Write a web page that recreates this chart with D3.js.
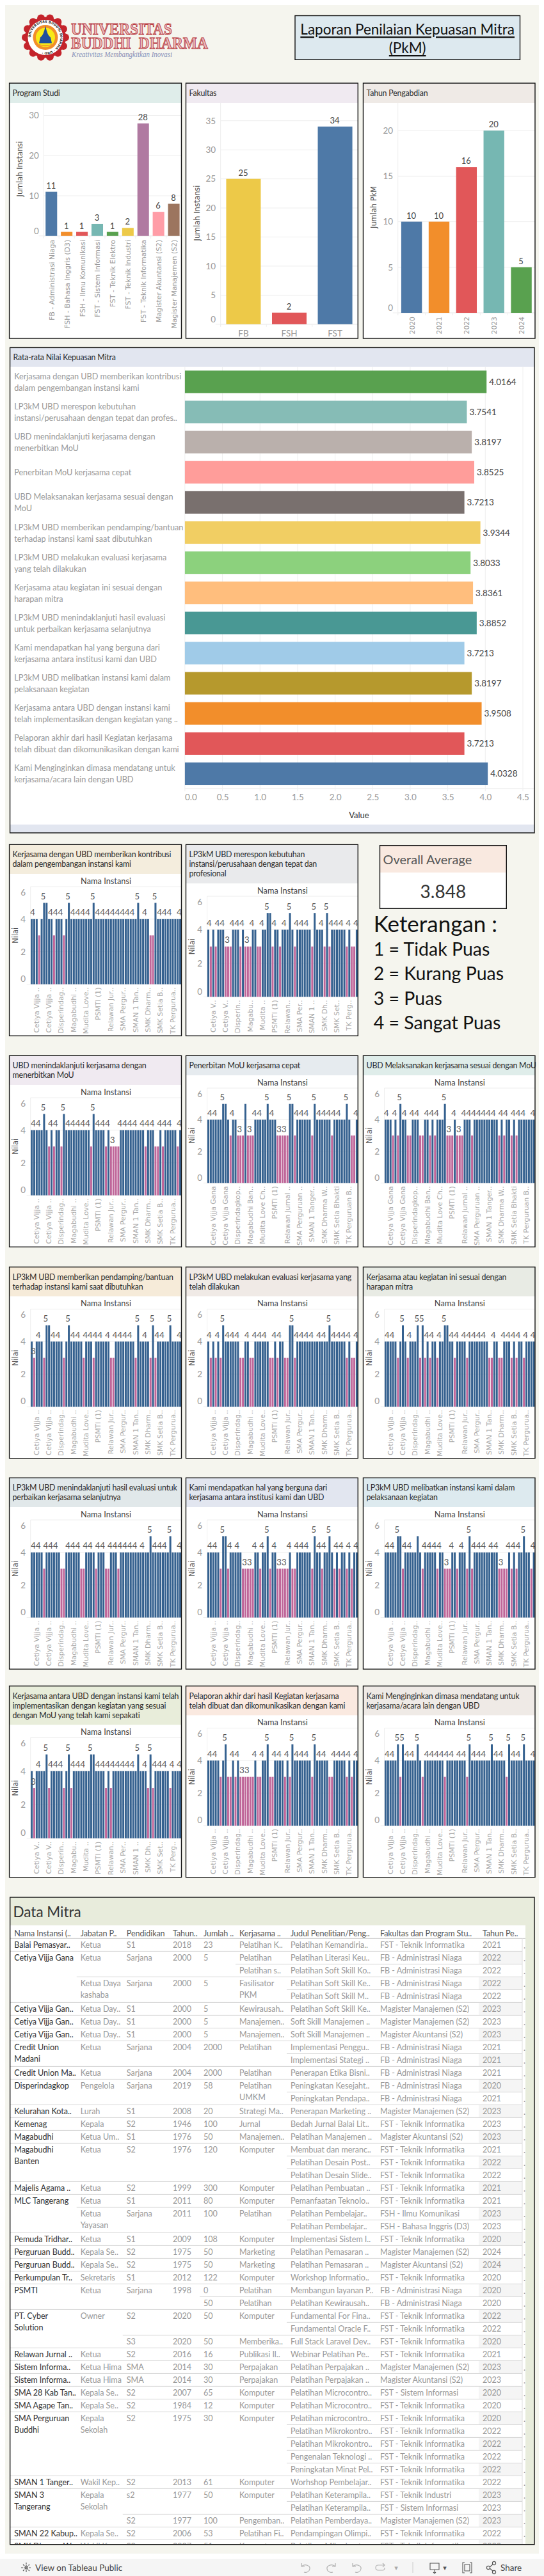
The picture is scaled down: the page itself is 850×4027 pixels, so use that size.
<!DOCTYPE html>
<html><head><meta charset="utf-8">
<script src="https://cdn.jsdelivr.net/npm/d3@7"></script>
<style>html,body{margin:0;padding:0;background:#fff}svg{display:block}</style>
</head><body><div id="c"></div>
<script>
const FONT = "Lato, 'Open Sans', sans-serif";
const AXISFONT = "'DejaVu Sans', sans-serif";

// ---- top charts
const programNames = ["FB - Administrasi Niaga","FSH - Bahasa Inggris (D3)","FSH - Ilmu Komunikasi","FST - Sistem Informasi","FST - Teknik Elektro","FST - Teknik Industri","FST - Teknik Informatika","Magister Akuntansi (S2)","Magister Manajemen (S2)"];
const programCounts = [11,1,1,3,1,2,28,6,8];
const programColors = ["#4e79a7","#f28e2b","#e15759","#76b7b2","#59a14f","#edc948","#b07aa1","#ff9da7","#9c755f"];
const facultyNames = ["FB","FSH","FST"];
const facultyCounts = [25,2,34];
const facultyColors = ["#edc948","#e15759","#4e79a7"];
const yearNames = ["2020","2021","2022","2023","2024"];
const yearCounts = [10,10,16,20,5];
const yearColors = ["#4e79a7","#f28e2b","#e15759","#76b7b2","#59a14f"];

// ---- average panel
const questionAxisLines = [
 ["Kerjasama dengan UBD memberikan kontribusi","dalam pengembangan instansi kami"],
 ["LP3kM UBD merespon kebutuhan","instansi/perusahaan dengan tepat dan profes.."],
 ["UBD menindaklanjuti kerjasama dengan","menerbitkan MoU"],
 ["Penerbitan MoU kerjasama cepat"],
 ["UBD Melaksanakan kerjasama sesuai dengan","MoU"],
 ["LP3kM UBD memberikan pendamping/bantuan","terhadap instansi kami saat dibutuhkan"],
 ["LP3kM UBD melakukan evaluasi kerjasama","yang telah dilakukan"],
 ["Kerjasama atau kegiatan ini sesuai dengan","harapan mitra"],
 ["LP3kM UBD menindaklanjuti hasil evaluasi","untuk perbaikan kerjasama selanjutnya"],
 ["Kami mendapatkan hal yang berguna dari","kerjasama antara institusi kami dan UBD"],
 ["LP3kM UBD melibatkan instansi kami dalam","pelaksanaan kegiatan"],
 ["Kerjasama antara UBD dengan instansi kami","telah implementasikan dengan kegiatan yang .."],
 ["Pelaporan akhir dari hasil Kegiatan kerjasama","telah dibuat dan dikomunikasikan dengan kami"],
 ["Kami Menginginkan dimasa mendatang untuk","kerjasama/acara lain dengan UBD"]];
const questionAverages = [4.0164,3.7541,3.8197,3.8525,3.7213,3.9344,3.8033,3.8361,3.8852,3.7213,3.8197,3.9508,3.7213,4.0328];
const questionColors = ["#59a14f","#86bcb6","#bab0ac","#ff9d9a","#79706e","#f1ce63","#8cd17d","#ffbe7d","#499894","#a0cbe8","#b6992d","#f28e2b","#e15759","#4e79a7"];
const avgTicks = [0,0.5,1,1.5,2,2.5,3,3.5,4,4.5];
const overallAverage = "3.848";
const legendLines = ["1 = Tidak Puas","2 = Kurang Puas","3 = Puas","4 = Sangat Puas"];

// ---- per-question scores of the 61 respondents
const instanceTicks = ["Cetiya Vijja Gana","Cetiya Vijja Gana","Disperindagkop Kota","Magabudhi Banten","Mudita Love Charity","PSMTI (1)","Relawan Jurnal Indonesia","SMA Perguruan Buddhi","SMAN 1 Tangerang","SMK Dharma Widya","SMK Setia Bhakti","TK Perguruan Buddhi"];
const q1 = [4,4,4,3,4,5,5,4,4,3, 4,4,4,3,4,5,4,4,4,4, 4,4,4,4,4,5,4,4,4,4, 4,4,4,4,4,4,4,4,4,4, 4,4,4,5,4,4,4,4,3,3, 5,4,4,4,4,4,4,4,4,4,4];
const q2 = [4,3,4,3,4,4,4,3,3,3, 4,4,4,3,4,3,3,3,4,4, 3,3,4,4,5,5,3,4,4,3, 4,4,4,5,4,3,4,4,4,4, 4,4,3,5,4,4,4,3,5,3, 4,4,4,4,4,4,3,4,3,3,4];
const q3 = [4,4,4,4,4,5,4,3,4,3, 4,4,3,5,4,4,4,4,4,4, 4,4,4,4,3,5,4,4,4,4, 3,4,3,3,3,3,4,4,4,4, 4,4,4,4,4,4,3,4,4,4, 3,3,4,3,4,4,4,4,4,3,4];
const q4 = [4,4,4,4,4,4,5,5,4,3, 4,4,3,3,3,5,3,3,3,4, 4,4,4,4,5,4,4,4,3,3, 3,3,3,5,5,3,4,4,4,4, 4,4,3,5,4,4,4,4,4,4, 3,4,4,4,4,4,5,4,3,3,4];
const q5 = [4,4,4,3,4,3,5,4,4,3, 3,4,4,4,3,3,4,4,3,4, 3,4,4,4,5,3,3,3,4,3, 3,3,4,4,4,3,4,4,4,4, 4,4,4,4,4,4,3,4,3,4, 4,3,4,3,4,4,4,4,4,4,4];
const q6 = [4,3,4,4,4,3,5,5,4,4, 4,4,4,3,4,5,4,4,4,4, 4,3,4,4,4,3,4,4,4,4, 4,4,3,3,4,4,4,4,4,4, 4,4,3,5,4,4,4,4,3,5, 3,4,4,4,4,4,5,4,4,4,4];
const q7 = [4,3,4,3,4,3,5,4,4,4, 4,4,4,3,3,4,4,3,3,4, 4,4,4,4,4,3,3,4,3,4, 4,3,3,5,5,3,4,4,4,4, 4,4,4,4,4,4,4,4,4,5, 4,4,4,4,4,4,3,4,3,3,4];
const q8 = [4,4,4,4,4,3,4,5,4,3, 4,4,4,5,3,5,3,4,3,4, 4,3,4,4,5,5,4,4,3,4, 4,4,4,3,4,4,4,4,4,4, 4,4,3,3,4,4,3,3,4,4, 4,3,4,3,4,4,3,4,4,4,4];
const q9 = [4,4,4,4,4,3,4,4,4,4, 4,4,3,3,4,4,4,4,4,4, 3,3,4,4,4,4,3,4,4,4, 3,3,4,4,4,3,4,4,4,4, 4,4,4,4,4,4,4,4,5,4, 4,4,4,4,4,4,5,4,4,4,4];
const q10 = [4,4,4,4,4,3,5,5,3,4, 4,4,4,4,3,3,3,3,3,4, 4,3,4,4,5,3,4,4,3,3, 3,3,3,4,3,3,4,4,4,4, 4,4,3,5,4,4,3,4,4,5, 4,3,4,3,4,4,3,4,3,4,4];
const q11 = [4,4,4,4,4,5,5,3,4,4, 4,4,4,5,4,3,4,4,4,4, 4,3,4,4,3,3,3,4,4,3, 4,4,4,3,5,3,4,4,4,4, 4,4,4,4,4,4,3,3,3,3, 4,3,4,3,4,4,5,4,4,3,4];
const q12 = [4,3,4,4,4,4,5,3,4,4, 4,4,4,3,4,5,3,4,4,4, 4,4,4,4,5,5,4,4,4,4, 3,4,3,4,4,4,4,4,4,4, 4,4,4,5,4,4,4,3,5,3, 4,4,4,4,4,4,3,4,4,4,4];
const q13 = [4,4,4,4,4,3,4,5,3,3, 4,3,4,3,3,3,3,3,3,4, 3,3,4,4,5,3,3,4,4,4, 4,3,4,3,5,4,4,4,4,4, 4,4,3,5,4,4,4,4,4,3, 3,4,4,4,4,4,3,4,3,4,4];
const q14 = [4,4,4,4,4,5,3,5,4,4, 4,4,4,5,4,3,4,4,4,4, 4,4,4,4,3,4,4,4,4,4, 4,4,4,3,5,4,4,4,4,4, 4,4,4,5,4,4,4,4,4,3, 5,4,4,4,4,4,5,4,4,4,4];

// which bars keep a value label (the rest were dropped by the original's overlap rule)
const lab1 = [0,5,8,10,12,15,17,19,21,23,25,27,29,31,33,35,37,39,41,43,46,50,52,54,56,60];
const lab2 = [0,4,6,8,10,12,14,16,18,22,24,27,31,33,36,38,40,43,46,48,50,52,54,57,60];
const lab3 = [1,3,5,8,10,13,15,17,19,21,23,25,27,29,31,33,36,38,40,42,45,47,49,52,54,56,60];
const lab4 = [1,3,6,10,13,17,19,21,24,26,29,31,33,36,38,40,43,45,47,49,51,53,56,60];
const lab5 = [0,4,6,8,11,13,17,19,21,24,26,28,30,32,34,36,38,40,42,44,47,49,52,54,56,60];
const lab6 = [1,3,6,9,11,15,17,19,22,24,26,28,31,34,36,38,40,43,46,49,51,53,56,60];
const lab7 = [0,4,6,8,10,12,16,19,21,23,27,29,34,36,38,40,42,45,47,49,51,53,55,57,60];
const lab8 = [1,3,7,10,13,15,17,19,22,24,27,29,32,34,36,38,40,44,48,50,52,54,57,60];
const lab9 = [1,3,6,8,10,15,17,19,22,24,27,29,32,34,36,38,40,42,45,48,50,52,54,56,60];
const lab10 = [1,3,6,9,12,15,17,19,22,24,27,29,31,33,36,38,40,43,45,47,49,52,54,57,60];
const lab11 = [1,3,5,8,10,16,18,20,22,25,27,31,34,36,38,40,43,45,47,50,52,54,56,60];
const lab12 = [1,3,6,8,10,12,15,17,19,21,24,27,29,31,33,35,37,39,41,43,46,48,50,52,54,57,60];
const lab13 = [1,3,7,10,12,14,16,19,22,24,27,29,32,34,36,38,40,43,45,47,51,53,55,57,60];
const lab14 = [1,3,5,7,9,11,13,17,19,21,23,25,27,30,32,34,36,38,40,43,45,47,50,52,54,56,60];

const questionTitles = [
 ["Kerjasama dengan UBD memberikan kontribusi","dalam pengembangan instansi kami"],
 ["LP3kM UBD merespon kebutuhan","instansi/perusahaan dengan tepat dan","profesional"],
 ["UBD menindaklanjuti kerjasama dengan","menerbitkan MoU"],
 ["Penerbitan MoU kerjasama cepat"],
 ["UBD Melaksanakan kerjasama sesuai dengan MoU"],
 ["LP3kM UBD memberikan pendamping/bantuan","terhadap instansi kami saat dibutuhkan"],
 ["LP3kM UBD melakukan evaluasi kerjasama yang","telah dilakukan"],
 ["Kerjasama atau kegiatan ini sesuai dengan","harapan mitra"],
 ["LP3kM UBD menindaklanjuti hasil evaluasi untuk","perbaikan kerjasama selanjutnya"],
 ["Kami mendapatkan hal yang berguna dari","kerjasama antara institusi kami dan UBD"],
 ["LP3kM UBD melibatkan instansi kami dalam","pelaksanaan kegiatan"],
 ["Kerjasama antara UBD dengan instansi kami telah","implementasikan dengan kegiatan yang sesuai","dengan MoU yang telah kami sepakati"],
 ["Pelaporan akhir dari hasil Kegiatan kerjasama","telah dibuat dan dikomunikasikan dengan kami"],
 ["Kami Menginginkan dimasa mendatang untuk","kerjasama/acara lain dengan UBD"]];
const questionHeaderColors = ["#f4eddd","#e9eaec","#f0eaf1","#e6ebef","#dfedea","#f6ebd9","#f0eae6","#e8ebe4","#e1e8ea","#e2e6f0","#ddeaef","#e8edda","#fae9e0","#efeae6"];
const questionScores = [q1,q2,q3,q4,q5,q6,q7,q8,q9,q10,q11,q12,q13,q14];
const questionLabels = [lab1,lab2,lab3,lab4,lab5,lab6,lab7,lab8,lab9,lab10,lab11,lab12,lab13,lab14];
const scoreColor = d => d === 3 ? "#bf6699" : "#35618f";

// ---- table
const FB="FB - Administrasi Niaga", TI="FST - Teknik Informatika", MM="Magister Manajemen (S2)", MA="Magister Akuntansi (S2)";
const tableColumns = ["Nama Instansi (..","Jabatan P..","Pendidikan","Tahun..","Jumlah ..","Kerjasama ..","Judul Penelitian/Peng..","Fakultas dan Program Stu..","Tahun Pe.."];
const tableRows = [
["Balai Pemasyar..","Ketua","S1","2018","23","Pelatihan K..","Pelatihan Kemandiria..",TI,"2021"],
["Cetiya Vijja Gana","Ketua","Sarjana","2000","5","Pelatihan","Pelatihan Literasi Keu..",FB,"2022"],
["","","","","","Pelatihan s..","Pelatihan Soft Skill Ko..",FB,"2022"],
["","Ketua Daya\nkashaba","Sarjana","2000","5","Fasilisator\nPKM","Pelatihan Soft Skill Ke..",FB,"2022"],
["","","","","","","Pelatihan Soft Skill M..",FB,"2022"],
["Cetiya Vijja Gan..","Ketua Day..","S1","2000","5","Kewirausah..","Pelatihan Soft Skill Ke..",MM,"2023"],
["Cetiya Vijja Gan..","Ketua Day..","S1","2000","5","Manajemen..","Soft Skill Manajemen ..",MM,"2023"],
["Cetiya Vijja Gan..","Ketua Day..","S1","2000","5","Manajemen..","Soft Skill Manajemen ..",MA,"2023"],
["Credit Union\nMadani","Ketua","Sarjana","2004","2000","Pelatihan","Implementasi Penggu..",FB,"2021"],
["","","","","","","Implementasi Stategi ..",FB,"2021"],
["Credit Union Ma..","Ketua","Sarjana","2004","2000","Pelatihan","Penerapan Etika Bisni..",FB,"2021"],
["Disperindagkop","Pengelola","Sarjana","2019","58","Pelatihan\nUMKM","Peningkatan Kesejaht..",FB,"2020"],
["","","","","","","Peningkatan Pendapa..",FB,"2021"],
["Kelurahan Kota..","Lurah","S1","2008","20","Strategi Ma..","Penerapan Marketing ..",MM,"2023"],
["Kemenag","Kepala","S2","1946","100","Jurnal","Bedah Jurnal Balai Lit..",TI,"2023"],
["Magabudhi","Ketua Um..","S1","1976","50","Manajemen..","Pelatihan Manajemen ..",MA,"2023"],
["Magabudhi\nBanten","Ketua","S2","1976","120","Komputer","Membuat dan meranc..",TI,"2021"],
["","","","","","","Pelatihan Desain Post..",TI,"2022"],
["","","","","","","Pelatihan Desain Slide..",TI,"2022"],
["Majelis Agama ..","Ketua","S2","1999","300","Komputer","Pelatihan Pembuatan ..",TI,"2021"],
["MLC Tangerang","Ketua","S1","2011","80","Komputer","Pemanfaatan Teknolo..",TI,"2021"],
["","Ketua\nYayasan","Sarjana","2011","100","Pelatihan","Pelatihan Pembelajar..","FSH - Ilmu Komunikasi","2023"],
["","","","","","","Pelatihan Pembelajar..","FSH - Bahasa Inggris (D3)","2023"],
["Pemuda Tridhar..","Ketua","S1","2009","108","Komputer","Implementasi Sistem I..",TI,"2020"],
["Perguruan Budd..","Kepala Se..","S2","1975","50","Marketing","Pelatihan Pemasaran ..",MM,"2024"],
["Perguruan Budd..","Kepala Se..","S2","1975","50","Marketing","Pelatihan Pemasaran ..",MA,"2024"],
["Perkumpulan Tr..","Sekretaris","S1","2012","122","Komputer","Workshop Informatio..",TI,"2020"],
["PSMTI","Ketua","Sarjana","1998","0","Pelatihan","Membangun layanan P..",FB,"2020"],
["","","","","50","Pelatihan","Pelatihan Kewirausah..",FB,"2020"],
["PT. Cyber\nSolution","Owner","S2","2020","50","Komputer","Fundamental For Fina..",TI,"2022"],
["","","","","","","Fundamental Oracle F..",TI,"2022"],
["","","S3","2020","50","Memberika..","Full Stack Laravel Dev..",TI,"2020"],
["Relawan Jurnal ..","Ketua","S2","2016","16","Publikasi Il..","Webinar Pelatihan Pe..",TI,"2021"],
["Sistem Informa..","Ketua Hima","SMA","2014","30","Perpajakan","Pelatihan Perpajakan ..",MM,"2023"],
["Sistem Informa..","Ketua Hima","SMA","2014","30","Perpajakan","Pelatihan Perpajakan ..",MA,"2023"],
["SMA 28 Kab Tan..","Kepala Se..","S2","2007","65","Komputer","Pelatihan Microcontro..","FST - Sistem Informasi","2020"],
["SMA Agape Tan..","Kepala Se..","S2","1984","12","Komputer","Pelatihan Microcontro..",TI,"2020"],
["SMA Perguruan\nBuddhi","Kepala\nSekolah","S2","1975","30","Komputer","Pelatihan microcontro..",TI,"2020"],
["","","","","","","Pelatihan Mikrokontro..",TI,"2022"],
["","","","","","","Pelatihan Mikrokontro..",TI,"2022"],
["","","","","","","Pengenalan Teknologi ..",TI,"2022"],
["","","","","","","Peningkatan Minat Pel..",TI,"2022"],
["SMAN 1 Tanger..","Wakil Kep..","S2","2013","61","Komputer","Worhshop Pembelajar..",TI,"2022"],
["SMAN 3\nTangerang","Kepala\nSekolah","s2","1977","50","Komputer","Pelatihan Keterampila..","FST - Teknik Industri","2023"],
["","","","","","","Pelatihan Keterampila..","FST - Sistem Informasi","2023"],
["","","S2","1977","100","Pengemban..","Pelatihan Pemberdaya..",MM,"2023"],
["SMAN 22 Kabup..","Kepala Se..","S2","2006","53","Pelatihan Fi..","Pendampingan Olimpi..",TI,"2022"],
["SMK Dharma W..","Wakil Kep..","S2","2007","51","Komputer","Pelatihan Mikrokontro..",TI,"2022"]];

// ---------------------------------------------------------------- drawing
const W=850,H=4027;
const svg=d3.select("#c").append("svg").attr("width",W).attr("height",H).attr("viewBox",`0 0 ${W} ${H}`);
const defs=svg.append("defs");
svg.append("rect").attr("width",W).attr("height",H).attr("fill","#fff");
svg.append("rect").attr("x",8).attr("y",8).attr("width",834).attr("height",3984).attr("fill","#f5f5ee");

function T(g,x,y,s,o={}){
  return g.append("text").attr("x",x).attr("y",y).attr("dominant-baseline","central")
    .attr("font-family",o.f||FONT).attr("font-size",o.s||13).attr("fill",o.c||"#333")
    .attr("letter-spacing",o.ls||null)
    .attr("text-anchor",o.a||"start").attr("font-weight",o.w||null).text(s);
}
function panel(x0,y0,x1,y1,hh,col,lines,fs){
  svg.append("rect").attr("x",x0).attr("y",y0).attr("width",x1-x0).attr("height",y1-y0).attr("fill","#fff");
  svg.append("rect").attr("x",x0).attr("y",y0).attr("width",x1-x0).attr("height",hh).attr("fill",col);
  const g=svg.append("g");
  lines.forEach((l,i)=>T(g,x0+5,y0+hh/2+(i-(lines.length-1)/2)*15,l,{s:fs||12.4,c:"#2b2b2b",ls:-0.2}));
}
function frame(x0,y0,x1,y1){
  svg.append("rect").attr("x",x0).attr("y",y0).attr("width",x1-x0).attr("height",y1-y0).attr("fill","none").attr("stroke","#111").attr("stroke-width",1.4);
}
function cutLabel(sel,max){
  sel.each(function(){
    const t=d3.select(this); let s=t.text();
    if(this.getComputedTextLength()<=max) return;
    let n=s.length;
    while(n>1){ n--; t.text(s.slice(0,n)+".."); if(this.getComputedTextLength()<=max) break; }
  });
}

// header: logo + title
(function(){
  const g=svg.append("g").attr("transform","translate(71,58.6)");
  d3.range(14).forEach(i=>{const a=i/14*2*Math.PI;
    g.append("circle").attr("cx",31*Math.cos(a)).attr("cy",31*Math.sin(a)).attr("r",6).attr("fill","#c4242b");});
  g.append("circle").attr("r",32).attr("fill","#c4242b");
  g.append("circle").attr("r",27.5).attr("fill","#fff");
  defs.append("path").attr("id","ringTxt").attr("d","M -23 0 A 23 23 0 1 1 23 0 A 23 23 0 1 1 -23 0");
  g.append("text").attr("font-size",5.2).attr("font-family",AXISFONT).attr("font-weight","bold").attr("fill","#333")
    .append("textPath").attr("href","#ringTxt").text("UNIVERSITAS BUDDHI DHARMA \u00b7 UBD \u00b7");
  g.append("circle").attr("r",19.5).attr("fill","#f28e2b");
  g.append("circle").attr("r",15).attr("fill","#f7ea18");
  g.append("path").attr("d","M -10 9 L -8 0 Q -3 -3 0 -18 Q 3 -3 8 0 L 10 9 Z").attr("fill","#1f4f9c");
  g.append("path").attr("d","M -10 11 Q 0 15 10 11").attr("stroke","#f28e2b").attr("stroke-width",1.5).attr("fill","none");
  const logoFont="'Liberation Serif', serif";
  const L=svg.append("g");
  [["UNIVERSITAS",111,45,158],["BUDDHI  DHARMA",111,67,214]].forEach(d=>{
    L.append("text").attr("x",d[1]).attr("y",d[2]).attr("dominant-baseline","central").attr("font-family",logoFont)
     .attr("font-size",26).attr("font-weight","bold").attr("fill","#e9b7b7").attr("stroke","#b5343b").attr("stroke-width",.9)
     .attr("textLength",d[3]).attr("lengthAdjust","spacingAndGlyphs").style("white-space","pre").text(d[0]);
  });
  L.append("text").attr("x",112).attr("y",85).attr("dominant-baseline","central").attr("font-family",logoFont).attr("font-style","italic")
   .attr("font-size",12).attr("fill","#8a93b8").attr("textLength",157).attr("lengthAdjust","spacingAndGlyphs").text("Kreativitas Membangkitkan Inovasi");
  svg.append("rect").attr("x",461).attr("y",24.5).attr("width",351.5).attr("height",68.8).attr("fill","#dde9ef").attr("stroke","#111").attr("stroke-width",1.4);
  ["Laporan Penilaian Kepuasan Mitra","(PkM)"].forEach((s,i)=>
    T(svg,636.7,45.5+i*29,s,{s:22.5,c:"#111",a:"middle"}).attr("text-decoration","underline"));
})();

// three top bar charts
function topChart(cfg){
  const {x0,x1,paneL,zeroY,topVal,names,vals,cols,title,titleX,titleY,header,hcol,ticks,rot}=cfg;
  const y0=130,y1=529,hh=31,paneT=y0+hh;
  panel(x0,y0,x1,y1,hh,hcol,[header]);
  const g=svg.append("g");
  const y=d3.scaleLinear().domain([0,topVal]).range([zeroY,paneT]);
  const x=d3.scaleBand().domain(names).range([paneL,x1]).paddingInner(.245).paddingOuter(.122);
  g.selectAll("line.g").data(ticks).join("line").attr("x1",paneL).attr("x2",x1).attr("y1",d=>y(d)).attr("y2",d=>y(d)).attr("stroke","#eee");
  g.append("line").attr("x1",paneL).attr("x2",paneL).attr("y1",paneT).attr("y2",zeroY+3).attr("stroke","#eee");
  g.append("line").attr("x1",paneL-8).attr("x2",x1).attr("y1",zeroY).attr("y2",zeroY).attr("stroke","#eee");
  const ax=g.append("g").attr("transform",`translate(${paneL-7.5},0)`).call(d3.axisLeft(y).tickValues(ticks).tickFormat(d3.format("d")).tickSize(0).tickPadding(0));
  ax.select(".domain").remove();
  ax.selectAll("text").attr("font-family",FONT).attr("font-size",13.5).attr("fill","#999").attr("dy",d=>d===0?"-0.25em":"0.32em");
  g.selectAll("rect.b").data(names).join("rect").attr("x",d=>x(d)).attr("width",x.bandwidth())
    .attr("y",(d,i)=>y(vals[i])).attr("height",(d,i)=>zeroY-y(vals[i])).attr("fill",(d,i)=>cols[i]);
  g.selectAll("text.v").data(names).join("text").attr("x",d=>x(d)+x.bandwidth()/2-.5).attr("y",(d,i)=>y(vals[i])-10)
    .attr("text-anchor","middle").attr("dominant-baseline","central").attr("font-family",FONT).attr("font-size",13).attr("fill","#444").text((d,i)=>vals[i]);
  const step=x.step();
  g.selectAll("line.t").data(d3.range(names.length+1)).join("line")
    .attr("x1",i=>paneL+step*i).attr("x2",i=>paneL+step*i).attr("y1",zeroY).attr("y2",zeroY+4).attr("stroke","#eee");
  if(rot){
    g.selectAll("text.n").data(names).join("text")
     .attr("transform",d=>`translate(${x(d)+x.bandwidth()/2+1},${zeroY+6}) rotate(-90)`)
     .attr("text-anchor","end").attr("dominant-baseline","central").attr("font-family",AXISFONT).attr("font-size",10.8).attr("fill","#999").text(d=>d);
  } else {
    g.selectAll("text.n").data(names).join("text").attr("x",d=>x(d)+x.bandwidth()/2).attr("y",zeroY+14)
     .attr("text-anchor","middle").attr("dominant-baseline","central").attr("font-family",FONT).attr("font-size",13.5).attr("fill","#999").text(d=>d);
  }
  g.append("text").attr("transform",`translate(${titleX},${titleY}) rotate(-90)`).attr("text-anchor","middle").attr("dominant-baseline","central")
   .attr("font-family",AXISFONT).attr("font-size",11.4).attr("fill","#555").text(title);
  frame(x0,y0,x1,y1);
}
topChart({x0:14.6,x1:283.5,paneL:68.3,zeroY:368.8,topVal:33.09,names:programNames,vals:programCounts,cols:programColors,title:"Jumlah Instansi",titleX:31.4,titleY:264,header:"Program Studi",hcol:"#dfedea",ticks:[0,10,20,30],rot:true});
topChart({x0:290.5,x1:559.3,paneL:344.7,zeroY:506.9,topVal:38.05,names:facultyNames,vals:facultyCounts,cols:facultyColors,title:"Jumlah Instansi",titleX:307.8,titleY:333,header:"Fakultas",hcol:"#f0eaf1",ticks:[0,5,10,15,20,25,30,35],rot:false});
topChart({x0:567.5,x1:836,paneL:621.7,zeroY:489,topVal:23.03,names:yearNames,vals:yearCounts,cols:yearColors,title:"Jumlah PkM",titleX:584,titleY:324,header:"Tahun Pengabdian",hcol:"#efeae6",ticks:[0,5,10,15,20],rot:true});

// average panel
(function(){
  const x0=15.6,x1=835,y0=543.4,y1=1302,hh=30.3;
  panel(x0,y0,x1,y1,hh,"#e2e6f0",["Rata-rata Nilai Kepuasan Mitra"]);
  svg.append("rect").attr("x",x0).attr("y",1289).attr("width",x1-x0).attr("height",y1-1289).attr("fill","#e2e6f0");
  const g=svg.append("g");
  const x=d3.scaleLinear().domain([0,4.5]).range([288.9,817]);
  const y=d3.scaleBand().domain(d3.range(questionAverages.length)).range([573.7,1232.7]).paddingInner(.255).paddingOuter(.12);
  g.selectAll("line.g").data(avgTicks).join("line").attr("x1",d=>x(d)).attr("x2",d=>x(d)).attr("y1",573.7).attr("y2",1237).attr("stroke","#efefef");
  g.append("line").attr("x1",288.9).attr("x2",x1).attr("y1",1232.7).attr("y2",1232.7).attr("stroke","#efefef");
  g.selectAll("rect.b").data(questionAverages).join("rect").attr("x",x(0)).attr("y",(d,i)=>y(i)).attr("height",y.bandwidth())
    .attr("width",d=>x(d)-x(0)).attr("fill",(d,i)=>questionColors[i]);
  g.selectAll("text.v").data(questionAverages).join("text").attr("x",d=>x(d)+4).attr("y",(d,i)=>y(i)+y.bandwidth()/2)
    .attr("dominant-baseline","central").attr("font-family",FONT).attr("font-size",13.5).attr("fill","#444").text(d=>d.toFixed(4));
  questionAxisLines.forEach((ls,i)=>ls.forEach((l,j)=>
    T(g,22.2,y(i)+y.bandwidth()/2+(j-(ls.length-1)/2)*18,l,{s:12.7,c:"#999",ls:-0.03})));
  const ax=g.append("g").attr("transform","translate(0,1241)").call(d3.axisBottom(x).tickValues(avgTicks).tickFormat(d3.format(".1f")).tickSize(0).tickPadding(0));
  ax.select(".domain").remove();
  ax.selectAll("text").attr("font-family",FONT).attr("font-size",13.5).attr("fill","#999").attr("dx",d=>d===0?9:0);
  T(g,561,1273.7,"Value",{s:13,c:"#333",a:"middle"});
  frame(x0,y0,x1,y1);
})();

// overall + legend
(function(){
  panel(593.5,1321.7,791.3,1420.3,42.3,"#f9e9e0",[]);
  T(svg,598.5,1343,"Overall Average",{s:20,c:"#555"});
  T(svg,692.4,1393,overallAverage,{s:28,c:"#333",a:"middle"});
  frame(593.5,1321.7,791.3,1420.3);
  T(svg,583.7,1443,"Keterangan :",{s:35,c:"#111"});
  legendLines.forEach((s,i)=>T(svg,583.7,1483+i*38.4,s,{s:28.5,c:"#111"}));
})();

// small multiples
const colX=[[14.6,283.5],[290.5,559.3],[567.5,836]];
const rowTop=[1320.3,1650.3,1980.7,2310.3,2635.7];
const slots=[[0,0],[0,1],[1,0],[1,1],[1,2],[2,0],[2,1],[2,2],[3,0],[3,1],[3,2],[4,0],[4,1],[4,2]];
const headH={1:30.7,2:45.7,3:60.7}, paneH={1:148.3,2:152.6,3:157.3}, tickH={1:100,2:80,3:60};
questionScores.forEach((vals,k)=>{
  const [r,c]=slots[k];
  const [x0,x1]=colX[c], top=rowTop[r], bottom=top+299, n=questionTitles[k].length;
  panel(x0,top,x1,bottom,headH[n],questionHeaderColors[k],questionTitles[k]);
  const paneL=x0+33.1, paneT=top+headH[n]+20, zeroY=paneT+paneH[n];
  const g=svg.append("g");
  const cid="cp"+k;
  defs.append("clipPath").attr("id",cid).append("rect").attr("x",x0).attr("y",top).attr("width",x1-x0).attr("height",299);
  g.attr("clip-path",`url(#${cid})`);
  T(g,(paneL+x1)/2,top+headH[n]+10.5,"Nama Instansi",{s:12.8,c:"#444",a:"middle"});
  const y=d3.scaleLinear().domain([0,6]).range([zeroY,paneT]);
  const x=d3.scaleBand().domain(d3.range(vals.length)).range([paneL,x1]).paddingInner(.22).paddingOuter(.1);
  g.selectAll("line.g").data([0,2,4,6]).join("line").attr("x1",d=>d===0?paneL-6:paneL).attr("x2",x1).attr("y1",d=>y(d)).attr("y2",d=>y(d)).attr("stroke","#eee");
  g.append("line").attr("x1",paneL).attr("x2",paneL).attr("y1",paneT).attr("y2",zeroY).attr("stroke","#eee");
  const ax=g.append("g").attr("transform",`translate(${paneL-7.5},0)`).call(d3.axisLeft(y).tickValues([0,2,4,6]).tickFormat(d3.format("d")).tickSize(0).tickPadding(0));
  ax.select(".domain").remove();
  ax.selectAll("text").attr("font-family",FONT).attr("font-size",13.5).attr("fill","#999")
    .attr("dy",d=>d===0?"-0.3em":d===6?"1em":"0.32em");
  g.selectAll("rect.b").data(vals).join("rect").attr("x",(d,i)=>x(i)).attr("width",x.bandwidth())
    .attr("y",d=>y(d)).attr("height",d=>zeroY-y(d)).attr("fill",scoreColor);
  g.selectAll("text.v").data(questionLabels[k]).join("text")
    .attr("x",i=>Math.max(x(i),paneL+3.2)).attr("y",i=>y(vals[i])-10.5)
    .attr("text-anchor","middle").attr("dominant-baseline","central").attr("font-family",FONT)
    .attr("font-size",13).attr("fill","#555").text(i=>vals[i]);
  const ticks=g.selectAll("text.n").data(instanceTicks).join("text")
    .attr("transform",(d,i)=>`translate(${x(2+i*5)+x.bandwidth()/2},${zeroY+5}) rotate(-90)`)
    .attr("text-anchor","end").attr("dominant-baseline","central").attr("font-family",AXISFONT).attr("font-size",10.8).attr("fill","#aaa").text(d=>d);
  cutLabel(ticks,tickH[n]-7);
  g.append("text").attr("transform",`translate(${x0+9.8},${(paneT+zeroY)/2}) rotate(-90)`).attr("text-anchor","middle").attr("dominant-baseline","central")
   .attr("font-family",AXISFONT).attr("font-size",11.4).attr("fill","#555").text("Nilai");
  frame(x0,top,x1,bottom);
});

// table
(function(){
  const x0=15.7,x1=835,y0=2966,y1=3977.7,hh=43.7,right=821;
  panel(x0,y0,x1,y1,hh,"#e8ecdc",[]);
  svg.append("rect").attr("x",right).attr("y",y0).attr("width",x1-right).attr("height",y1-y0).attr("fill","#e8ecdc");
  T(svg,20.5,2988,"Data Mitra",{s:22.5,c:"#333"});
  const g=svg.append("g");
  defs.append("clipPath").attr("id","tbl").append("rect").attr("x",x0).attr("y",y0+hh).attr("width",right-x0).attr("height",y1-y0-hh);
  g.attr("clip-path","url(#tbl)");
  const colText=[22.2,125.7,197.8,270,318,374,454,594,754];
  const rowY=d3.scaleLinear().domain([0,1]).range([3040.9,3060.9]);
  tableColumns.forEach((c,i)=>T(g,colText[i],3022,c,{s:12.6,c:"#555",ls:-0.1}));
  g.selectAll("rect.band").data(d3.range(tableRows.length).filter(i=>i%2===1)).join("rect")
    .attr("x",748).attr("width",68).attr("y",i=>rowY(i)-10.5).attr("height",20).attr("fill","#f5f5f5");
  g.append("line").attr("x1",x0).attr("x2",right).attr("y1",3030.4).attr("y2",3030.4).attr("stroke","#ccc");
  g.append("line").attr("x1",816).attr("x2",816).attr("y1",3030).attr("y2",y1).attr("stroke","#ddd");
  tableRows.forEach((row,i)=>{
    const first=row.findIndex(s=>s!=="");
    g.append("line").attr("x1",first===0?x0:colText[first]-6).attr("x2",816).attr("y1",rowY(i)-10.5).attr("y2",rowY(i)-10.5).attr("stroke","#d5d5d5").attr("stroke-width",1);
    row.forEach((cell,j)=>{
      cell.split("\n").forEach((s,l)=>T(g,colText[j],rowY(i)+l*18,s,{s:12.6,c:j===0?"#333":"#999",ls:-0.05}));
    });
    T(g,818,rowY(i),".",{s:13,c:"#999"});
  });
  frame(x0,y0,x1,y1);
})();

// toolbar
(function(){
  svg.append("rect").attr("x",0).attr("y",4000).attr("width",W).attr("height",27).attr("fill","#f5f5f5");
  const g=svg.append("g");
  const ic="#777";
  const star=g.append("g").attr("transform","translate(41,4014)").attr("stroke","#555").attr("stroke-width",1.2).attr("fill","none");
  [[0,-8,0,8],[-8,0,8,0],[-5,-5,5,5],[-5,5,5,-5]].forEach(d=>star.append("line").attr("x1",d[0]).attr("y1",d[1]).attr("x2",d[2]).attr("y2",d[3]).attr("stroke-dasharray","3 1"));
  T(g,55,4014,"View on Tableau Public",{s:13.5,c:"#444"});
  const undo=(x,m,op)=>g.append("path").attr("transform",`translate(${x},4014) scale(${m},1)`).attr("d","M -6 -7 L -6 -2 L -1 -2 M -6 -2 C 0 -7 8 -3 7 2 C 6 7 1 8 -2 7").attr("fill","none").attr("stroke",ic).attr("stroke-width",1.2).attr("opacity",op);
  undo(477,1,.55); undo(518,-1,.55); undo(557,1,.55);
  g.append("path").attr("transform","translate(594,4014)").attr("d","M 7 -4 L -3 -4 Q -7 -4 -7 0 Q -7 4 -3 4 L 4 4 Q 7 4 7 0 M 4 -7 L 7 -4 L 4 -1").attr("fill","none").attr("stroke",ic).attr("stroke-width",1.2).attr("opacity",.5);
  T(g,619,4014,"\u25BE",{s:11,c:"#aaa",a:"middle",f:AXISFONT});
  g.append("line").attr("x1",645).attr("x2",645).attr("y1",4005).attr("y2",4022).attr("stroke","#ccc");
  g.append("path").attr("transform","translate(679,4014)").attr("d","M -7 -7 L 7 -7 L 7 3 L -7 3 Z M 0 3 L 0 9 M -2 7 L 0 9 L 2 7").attr("fill","none").attr("stroke","#555").attr("stroke-width",1.1);
  T(g,695,4014,"\u25BE",{s:11,c:"#555",a:"middle",f:AXISFONT});
  g.append("path").attr("transform","translate(730,4014)").attr("d","M -4 -8 L -7 -8 L -7 8 L -4 8 M 4 -8 L 7 -8 L 7 8 L 4 8 M -4 -5 L 4 -5 L 4 5 L -4 5 Z").attr("fill","none").attr("stroke","#555").attr("stroke-width",1.1);
  const sh=g.append("g").attr("transform","translate(768,4014)").attr("fill","none").attr("stroke","#555").attr("stroke-width",1.1);
  sh.append("path").attr("d","M -4 0 L 3 -6 M -4 0 L 3 6");
  [[-5,0],[4,-7],[4,7]].forEach(d=>sh.append("circle").attr("cx",d[0]).attr("cy",d[1]).attr("r",2.6).attr("fill","#f5f5f5"));
  T(g,782,4014,"Share",{s:13.5,c:"#444"});
})();
</script></body></html>
